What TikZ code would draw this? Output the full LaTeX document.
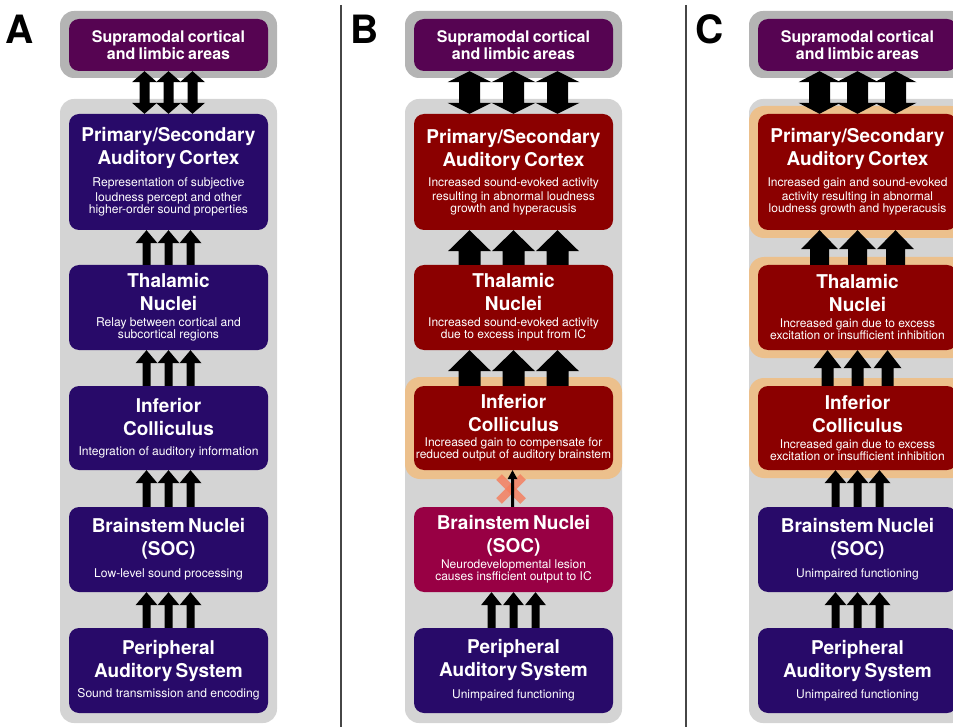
\documentclass[tikz,border=0pt]{standalone}
\usepackage{fontspec}
\setmainfont{TeX Gyre Heros}
\usetikzlibrary{calc}
\definecolor{indigoC}{RGB}{40,10,105}
\definecolor{supC}{RGB}{86,4,82}
\definecolor{redC}{RGB}{139,0,0}
\definecolor{magC}{RGB}{152,0,68}
\definecolor{greyL}{RGB}{212,212,212}
\definecolor{greyD}{RGB}{180,180,180}
\definecolor{haloC}{RGB}{236,192,140}
\definecolor{xC}{RGB}{244,128,96}
\definecolor{sepC}{RGB}{70,70,70}
\newcommand\ttlfont{\fontsize{19}{23}\selectfont\bfseries}
\newcommand\subfnt{\fontsize{12}{14}\selectfont\mdseries}
\newcommand\subfntA{\fontsize{12.1}{15}\selectfont\mdseries}
\newcommand\supfnt{\fontsize{16}{20}\selectfont\bfseries}
\newcommand\bx[8]{\node[box,fill=#5,minimum height=#4] (#1) at (#2,#3) {\ttlfont #6\\[#7]\subfnt #8};}
\newcommand\bxA[8]{\node[box,fill=#5,minimum height=#4] (#1) at (#2,#3) {\ttlfont #6\\[#7]\subfntA #8};}
% up block arrow: from (lower), to (upper), dx, shaft half, head half, head length
\newcommand\uarr[6]{\fill[arrowC] let \p1=(#1.north), \p2=(#2.south) in
 ({\x1+(#3pt)-(#4pt)},\y1) -- ({\x1+(#3pt)-(#4pt)},{\y2-(#6pt)}) -- ({\x1+(#3pt)-(#5pt)},{\y2-(#6pt)})
 -- ({\x1+(#3pt)},\y2) -- ({\x1+(#3pt)+(#5pt)},{\y2-(#6pt)}) -- ({\x1+(#3pt)+(#4pt)},{\y2-(#6pt)})
 -- ({\x1+(#3pt)+(#4pt)},\y1) -- cycle;}
% double block arrow
\newcommand\darr[6]{\fill[arrowC] let \p1=(#1.north), \p2=(#2.south) in
 ({\x1+(#3pt)-(#4pt)},{\y2-(#6pt)}) -- ({\x1+(#3pt)-(#5pt)},{\y2-(#6pt)}) -- ({\x1+(#3pt)},\y2)
 -- ({\x1+(#3pt)+(#5pt)},{\y2-(#6pt)}) -- ({\x1+(#3pt)+(#4pt)},{\y2-(#6pt)})
 -- ({\x1+(#3pt)+(#4pt)},{\y1+(#6pt)}) -- ({\x1+(#3pt)+(#5pt)},{\y1+(#6pt)}) -- ({\x1+(#3pt)},\y1)
 -- ({\x1+(#3pt)-(#5pt)},{\y1+(#6pt)}) -- ({\x1+(#3pt)-(#4pt)},{\y1+(#6pt)}) -- cycle;}
\tikzset{
 box/.style={rectangle, rounded corners=10pt, inner sep=0pt, minimum width=199pt, text width=197pt, align=center, text=white},
 supbox/.style={box, fill=supC, minimum height=52pt},
 arrowC/.style={fill=black},
 cont/.style={rounded corners=14pt},
 panlab/.style={font=\fontsize{39}{39}\selectfont\bfseries, inner sep=0pt},
 halo/.style={fill=haloC, rounded corners=15pt}
}
\begin{document}
\begin{tikzpicture}[x=1pt,y=-1pt]
\useasboundingbox (0,0) rectangle (953,727);
\clip (0,0) rectangle (953,727);
% separators
\draw[sepC, line width=1.4pt] (341,5) -- (341,727);
\draw[sepC, line width=1.4pt] (686,5) -- (686,727);
% panel labels
\node[panlab] (labA) at (20,29) {A};
\node[panlab] (labB) at (365,29) {B};
\node[panlab] (labC) at (710,29) {C};
% containers
\foreach \o in {0,345,689}{
 \fill[greyD, cont] (60+\o,11) rectangle (277+\o,78);
 \fill[greyL, cont] (60+\o,99) rectangle (277+\o,723);
}
% ---------------- Panel A ----------------
\node[supbox] (supA) at (168.5,45) {\supfnt Supramodal cortical\\and limbic areas};
\bxA{priA}{168.5}{172}{116pt}{indigoC}{Primary/Secondary\\Auditory Cortex}{7pt}{Representation of subjective\\loudness percept and other\\higher-order sound properties}
\bxA{thaA}{168.5}{307.5}{85pt}{indigoC}{Thalamic\\Nuclei}{1pt}{Relay between cortical and\\subcortical regions}
\bxA{icA}{168.5}{428}{84pt}{indigoC}{Inferior\\Colliculus}{8pt}{Integration of auditory information}
\bxA{brA}{168.5}{549.5}{85pt}{indigoC}{Brainstem Nuclei\\(SOC)}{8pt}{Low-level sound processing}
\bxA{peA}{168.5}{670.5}{85pt}{indigoC}{Peripheral\\Auditory System}{6pt}{Sound transmission and encoding}
\foreach \d in {-24,0,24}{\darr{priA}{supA}{\d}{5}{12.5}{11}}
\foreach \d in {-22,0,22}{
 \uarr{thaA}{priA}{\d}{4}{11}{13}
 \uarr{icA}{thaA}{\d}{4}{11}{13}
 \uarr{brA}{icA}{\d}{4}{11}{13}
 \uarr{peA}{brA}{\d}{4}{11}{13}
}
% ---------------- Panel B ----------------
\node[supbox] (supB) at (513.5,45) {\supfnt Supramodal cortical\\and limbic areas};
\fill[halo] (405,377) rectangle (622,479);
\bx{priB}{513.5}{172}{116pt}{redC}{Primary/Secondary\\Auditory Cortex}{6pt}{Increased sound-evoked activity\\resulting in abnormal loudness\\growth and hyperacusis}
\bx{thaB}{513.5}{307.5}{85pt}{redC}{Thalamic\\Nuclei}{2pt}{Increased sound-evoked activity\\due to excess input from IC}
\bx{icB}{513.5}{428}{84pt}{redC}{Inferior\\Colliculus}{1pt}{Increased gain to compensate for\\reduced output of auditory brainstem}
\bx{brB}{513.5}{549.5}{85pt}{magC}{Brainstem Nuclei\\(SOC)}{2pt}{Neurodevelopmental lesion\\causes insfficient output to IC}
\bx{peB}{513.5}{670.5}{85pt}{indigoC}{Peripheral\\Auditory System}{8pt}{Unimpaired functioning}
\foreach \d in {-44,0,44}{
 \darr{priB}{supB}{\d}{10.5}{22}{11}
 \uarr{thaB}{priB}{\d}{11}{21.5}{21}
 \uarr{icB}{thaB}{\d}{11}{21.5}{21}
}
\foreach \d in {-22,0,22}{\uarr{peB}{brB}{\d}{4}{10.5}{13}}
\coordinate (xmark) at (511,489);
\draw[xC, line width=8pt, opacity=0.85] ($(xmark)+(-12,-12)$) -- ($(xmark)+(12,12)$);
\draw[xC, line width=8pt, opacity=0.85] ($(xmark)+(-12,12)$) -- ($(xmark)+(12,-12)$);
\uarr{brB}{icB}{-1}{1.5}{5}{9}
% ---------------- Panel C ----------------
\node[supbox] (supC) at (857.5,45) {\supfnt Supramodal cortical\\and limbic areas};
\fill[halo] (749,106) rectangle (966,238);
\fill[halo] (749,257) rectangle (966,358);
\fill[halo] (749,378) rectangle (966,478);
\bx{priC}{857.5}{172}{116pt}{redC}{Primary/Secondary\\Auditory Cortex}{7pt}{Increased gain and sound-evoked\\activity resulting in abnormal\\loudness growth and hyperacusis}
\bx{thaC}{857.5}{307.5}{85pt}{redC}{Thalamic\\Nuclei}{2pt}{Increased gain due to excess\\excitation or insufficient inhibition}
\bx{icC}{857.5}{428}{84pt}{redC}{Inferior\\Colliculus}{2pt}{Increased gain due to excess\\excitation or insufficient inhibition}
\bx{brC}{857.5}{549.5}{85pt}{indigoC}{Brainstem Nuclei\\(SOC)}{8pt}{Unimpaired functioning}
\bx{peC}{857.5}{670.5}{85pt}{indigoC}{Peripheral\\Auditory System}{7pt}{Unimpaired functioning}
\foreach \d in {-38,0,38}{
 \darr{priC}{supC}{\d}{10.5}{21}{11}
 \uarr{thaC}{priC}{\d}{9.5}{18.5}{19}
}
\foreach \d in {-30,0,30}{\uarr{icC}{thaC}{\d}{6}{14}{18}}
\foreach \d in {-22,0,22}{
 \uarr{brC}{icC}{\d}{4}{11}{13}
 \uarr{peC}{brC}{\d}{4}{11}{13}
}
\end{tikzpicture}
\end{document}
